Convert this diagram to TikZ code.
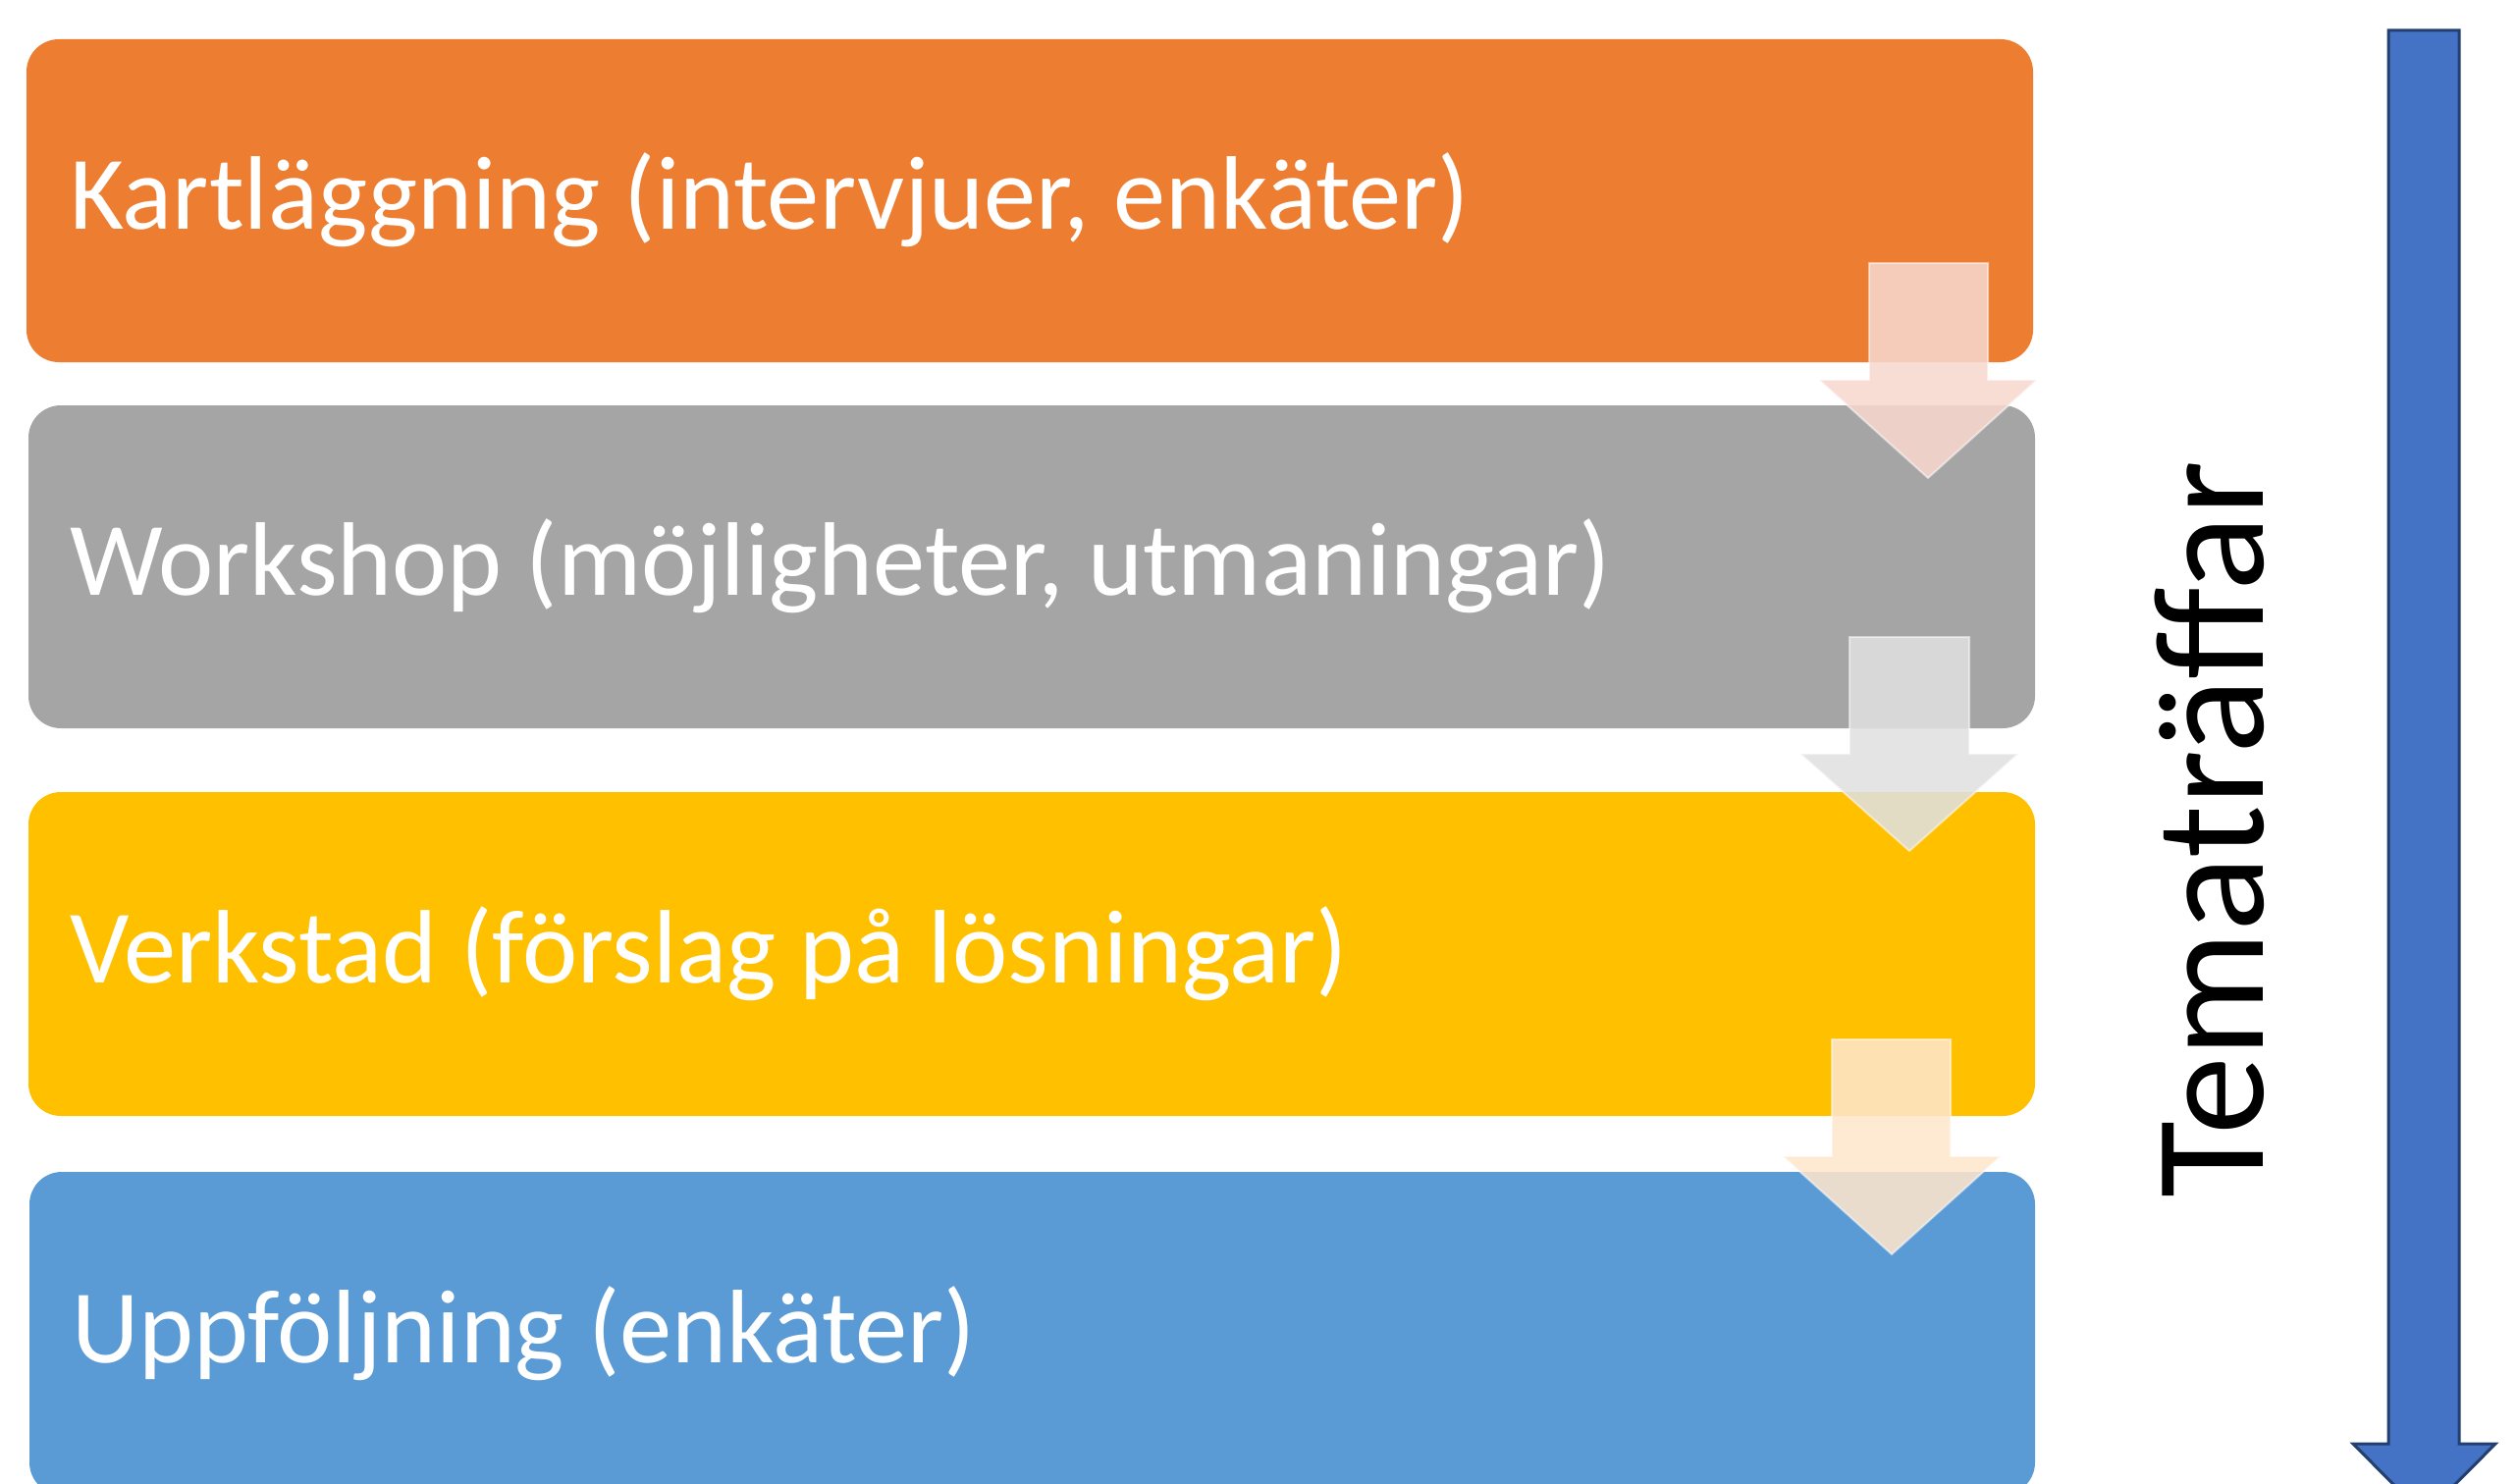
\documentclass[tikz,border=0pt]{standalone}
\usepackage{fontspec}
\setmainfont{Carlito}
\definecolor{boxorange}{HTML}{ED7D31}
\definecolor{boxgray}{HTML}{A5A5A5}
\definecolor{boxyellow}{HTML}{FFC000}
\definecolor{boxblue}{HTML}{5B9BD5}
\definecolor{arrA}{HTML}{F7D8CE}
\definecolor{arrB}{HTML}{E0E0E0}
\definecolor{arrC}{HTML}{FEE6CC}
\definecolor{bigblue}{HTML}{4472C4}
\definecolor{bigedge}{HTML}{233F70}
\tikzset{
  stagebox/.style={rounded corners=33pt, draw=none},
  stagetext/.style={anchor=base west, text=white, font=\fontsize{106.5}{128}\selectfont, inner sep=0pt},
  flowarrow/.style={fill opacity=0.88, draw=white, draw opacity=0.5, line width=2pt},
}
\begin{document}
\begin{tikzpicture}[x=1pt,y=-1pt]
\useasboundingbox (0,0) rectangle (2565,1512);
\clip (0,0) rectangle (2565,1512);
% stage boxes
\fill[stagebox, boxorange] (27,40) rectangle (2071,369);
\fill[stagebox, boxgray] (29,413) rectangle (2073,742);
\fill[stagebox, boxyellow] (29,807) rectangle (2073,1137);
\fill[stagebox, boxblue] (30,1194) rectangle (2073,1523);
% texts
\node[stagetext] (t1) at (71,233) {Kartläggning (intervjuer, enkäter)};
\node[stagetext] (t2) at (71,606) {Workshop (möjligheter, utmaningar)};
\node[stagetext] (t3) at (71,1001) {Verkstad (förslag på lösningar)};
\node[stagetext] (t4) at (73,1388) {Uppföljning (enkäter)};
% flow arrows
\filldraw[flowarrow, fill=arrA] (1904,268) -- (2025,268) -- (2025,387) -- (2075,387) -- (1964,487) -- (1853,387) -- (1904,387) -- cycle;
\filldraw[flowarrow, fill=arrB] (1884,649) -- (2006,649) -- (2006,768) -- (2056,768) -- (1945,867) -- (1834,768) -- (1884,768) -- cycle;
\filldraw[flowarrow, fill=arrC] (1866,1059) -- (1987,1059) -- (1987,1178) -- (2038,1178) -- (1927,1278) -- (1816,1178) -- (1866,1178) -- cycle;
% big arrow
\filldraw[fill=bigblue, draw=bigedge, line width=3pt, line join=miter] (2433,31) -- (2505,31) -- (2505,1471) -- (2542,1471) -- (2469.5,1544) -- (2397,1471) -- (2433,1471) -- cycle;
\node[anchor=base west, rotate=90, inner sep=0pt, font=\fontsize{160}{192}\selectfont] (tema) at (2305,1221) {Tematräffar};
\end{tikzpicture}
\end{document}
